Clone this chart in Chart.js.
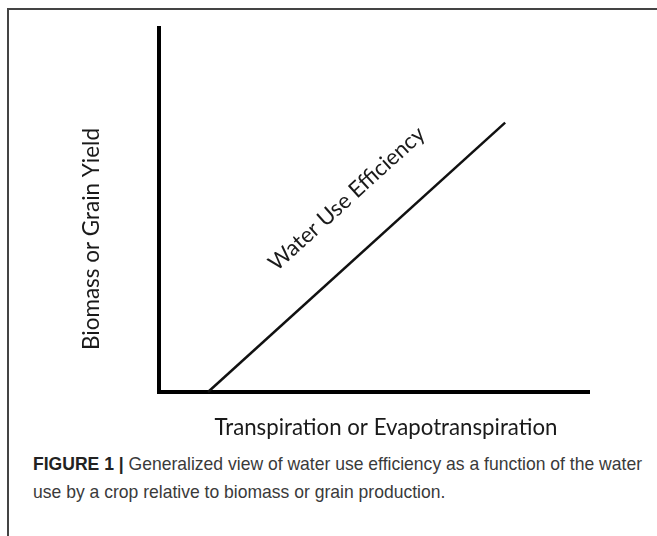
<!DOCTYPE html>
<html>
<head>
<meta charset="utf-8">
<script src="https://cdn.jsdelivr.net/npm/chart.js@4.4.1/dist/chart.umd.min.js"></script>
<style>
  html, body { margin: 0; padding: 0; background: #fff; }
  body { width: 657px; height: 536px; position: relative; overflow: hidden; }
  #frame {
    position: absolute; left: 7px; top: 8px; width: 700px; height: 600px;
    border-top: 2px solid #444; border-left: 2px solid #444;
  }
  #wrap { position: absolute; left: 0; top: 0; width: 657px; height: 445px; }
  #caption {
    position: absolute; left: 33px; top: 450px;
    font-family: "Liberation Sans Narrow", "Liberation Sans", Arial, sans-serif;
    font-size: 19px; line-height: 28px; color: #3a3a3a; white-space: nowrap;
  }
  #caption .line { display: block; transform-origin: 0 50%; }
  #caption b { color: #222; }
</style>
</head>
<body>
<div id="frame"></div>
<div id="wrap"><canvas id="wueChart"></canvas></div>
<div id="caption">
  <span class="line" id="cap1"><b>FIGURE 1 |</b> Generalized view of water use efficiency as a function of the water</span>
  <span class="line" id="cap2">use by a crop relative to biomass or grain production.</span>
</div>
<script>
// ── DATA ──
const xRange = [0, 10];
const yRange = [0, 10];
const wueX = [1.14, 8.05];
const wueY = [0, 7.4];
const curveLabel = 'Water Use Efficiency';
const xTitle = 'Transpiration or Evapotranspiration';
const yTitle = 'Biomass or Grain Yield';

// font size that makes a text a given width
function fitFont(ctx, text, width, family) {
    ctx.font = `100px ${family}`;
    return 100 * width / ctx.measureText(text).width;
}

const FAMILY = 'Lato, "Open Sans", sans-serif';

// ── LABEL PLUGIN (axis titles + line label) ──
const labelPlugin = {
    id: 'wueLabels',
    afterDraw(chart) {
        const ctx = chart.ctx;
        const xs = chart.scales.x, ys = chart.scales.y;
        ctx.save();
        ctx.fillStyle = '#1a1a1a';
        ctx.textAlign = 'center';
        ctx.textBaseline = 'middle';

        // y title
        let size = fitFont(ctx, yTitle, 222, FAMILY);
        ctx.font = `${size}px ${FAMILY}`;
        ctx.save();
        ctx.translate(92, 239);
        ctx.rotate(-Math.PI / 2);
        ctx.fillText(yTitle, 0, 0);
        ctx.restore();

        // x title
        size = fitFont(ctx, xTitle, 343, FAMILY);
        ctx.font = `${size}px ${FAMILY}`;
        ctx.fillText(xTitle, 386, 428);

        // label along the line
        const x0 = xs.getPixelForValue(wueX[0]), y0 = ys.getPixelForValue(wueY[0]);
        const x1 = xs.getPixelForValue(wueX[1]), y1 = ys.getPixelForValue(wueY[1]);
        const len = Math.hypot(x1 - x0, y1 - y0);
        const dx = (x1 - x0) / len, dy = (y1 - y0) / len;
        const t = 0.58, off = 50;
        const cx = x0 + t * (x1 - x0) + off * dy;
        const cy = y0 + t * (y1 - y0) - off * dx;
        size = fitFont(ctx, curveLabel, 202, FAMILY);
        ctx.font = `${size}px ${FAMILY}`;
        ctx.translate(cx, cy);
        ctx.rotate(Math.atan2(dy, dx));
        ctx.fillText(curveLabel, 0, 0);
        ctx.restore();
    }
};

const axisOpts = (range) => ({
    type: 'linear',
    min: range[0],
    max: range[1],
    grid: { display: false },
    ticks: { display: false },
    border: { display: true, color: '#000', width: 4 }
});

new Chart(document.getElementById('wueChart'), {
    type: 'scatter',
    data: {
        datasets: [{
            label: curveLabel,
            data: wueX.map((x, i) => ({ x, y: wueY[i] })),
            showLine: true,
            borderColor: '#111',
            borderWidth: 2.5,
            pointRadius: 0,
            clip: false
        }]
    },
    options: {
        responsive: true,
        maintainAspectRatio: false,
        animation: false,
        layout: { padding: { left: 151, top: 28, right: 68, bottom: 45 } },
        plugins: { legend: { display: false }, tooltip: { enabled: false } },
        scales: { x: axisOpts(xRange), y: axisOpts(yRange) }
    },
    plugins: [labelPlugin]
});

// squeeze caption lines to the reference width
const c1 = document.getElementById('cap1');
const s = 609 / c1.getBoundingClientRect().width;
document.querySelectorAll('#caption .line').forEach(el => {
    el.style.transform = `scaleX(${s})`;
});
</script>
</body>
</html>
